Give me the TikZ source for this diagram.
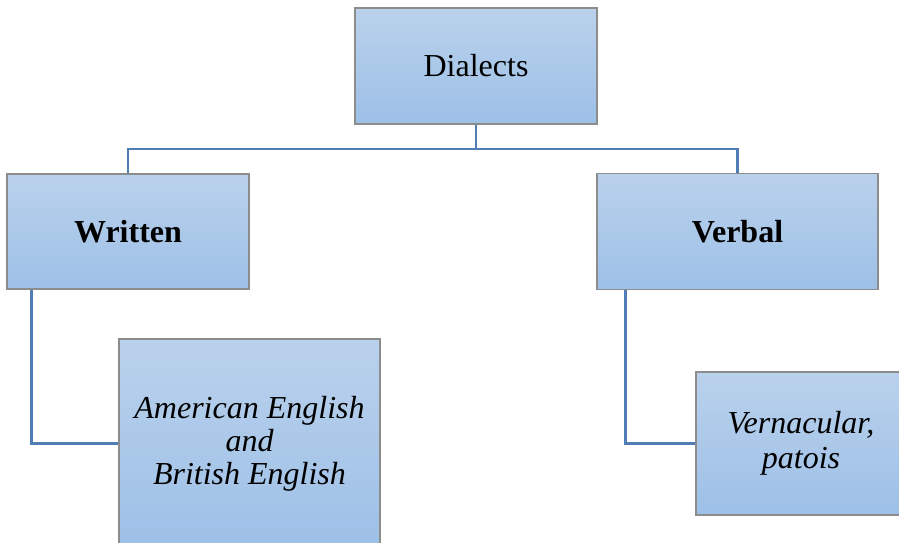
\documentclass[tikz,border=0pt]{standalone}
\usepackage{fontspec}
\setmainfont{Liberation Serif}
\definecolor{boxtop}{RGB}{186,209,236}
\definecolor{boxbottom}{RGB}{157,192,231}
\definecolor{boxedge}{RGB}{140,140,140}
\definecolor{linkblue}{RGB}{80,125,180}
\tikzset{
  card/.style={draw=boxedge, line width=1.3pt, top color=boxtop, bottom color=boxbottom,
    rectangle, inner sep=0pt, align=center, font=\fontsize{32}{33}\selectfont},
  link/.style={draw=linkblue, line width=2.6pt}
}
\begin{document}
\begin{tikzpicture}[x=1pt,y=-1pt]
\useasboundingbox (0,0) rectangle (899,543);
\begin{scope}
\clip (0,0) rectangle (899,543);
\node[card, minimum width=242pt, minimum height=116pt] (dia) at (476,66) {Dialects};
\node[card, minimum width=242pt, minimum height=115pt] (wri) at (128,231.5) {\textbf{Written}};
\node[card, minimum width=281pt, minimum height=116pt] (ver) at (737.5,231.5) {\textbf{Verbal}};
\node[card, minimum width=261pt, minimum height=209pt] (ame) at (249.5,443.5)
  {\itshape American English\\ \itshape and\\ \itshape British English};
\node[card, minimum width=210pt, minimum height=143pt, font=\fontsize{32}{35}\selectfont] (vrn) at (801,443.5)
  {\itshape Vernacular,\\ \itshape patois};
\coordinate (bus) at (476,149);
\draw[link] (dia.south) -- (bus);
\draw[link] (bus) -| (wri.north);
\draw[link] (bus) -| (ver.north);
\draw[link] ([xshift=25pt]wri.south west) |- (ame.west);
\draw[link] ([xshift=29pt]ver.south west) |- (vrn.west);
\end{scope}
\end{tikzpicture}
\end{document}
